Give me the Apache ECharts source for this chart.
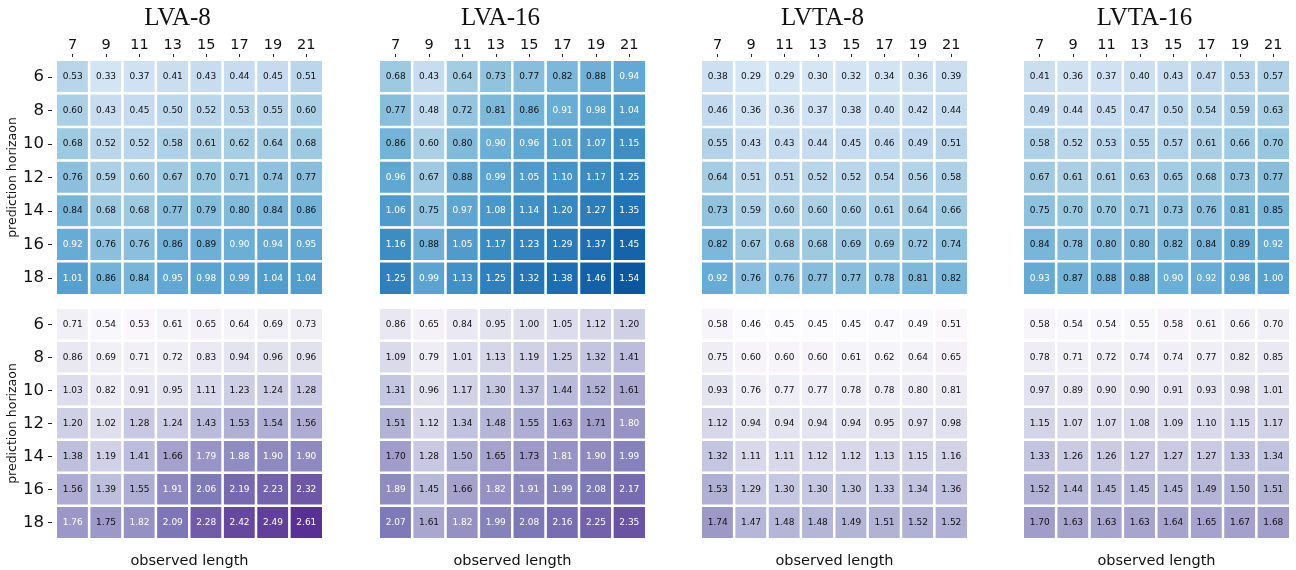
<!DOCTYPE html>
<html>
<head>
<meta charset="utf-8">
<script src="https://cdn.jsdelivr.net/npm/echarts@6/dist/echarts.min.js"></script>
<style>
  html, body { margin: 0; padding: 0; background: #fff; }
  #chart { width: 1296px; height: 570px; }
</style>
</head>
<body>
<div id="chart"></div>
<script>
// Axis categories
const observedLength = ['7', '9', '11', '13', '15', '17', '19', '21'];
const predictionHorizon = ['6', '8', '10', '12', '14', '16', '18'];
const modelNames = ['LVA-8', 'LVA-16', 'LVTA-8', 'LVTA-16'];

// Upper row of heatmaps (rows = prediction horizon, cols = observed length)
const upperLVA8 = [
  [0.53, 0.33, 0.37, 0.41, 0.43, 0.44, 0.45, 0.51],
  [0.60, 0.43, 0.45, 0.50, 0.52, 0.53, 0.55, 0.60],
  [0.68, 0.52, 0.52, 0.58, 0.61, 0.62, 0.64, 0.68],
  [0.76, 0.59, 0.60, 0.67, 0.70, 0.71, 0.74, 0.77],
  [0.84, 0.68, 0.68, 0.77, 0.79, 0.80, 0.84, 0.86],
  [0.92, 0.76, 0.76, 0.86, 0.89, 0.90, 0.94, 0.95],
  [1.01, 0.86, 0.84, 0.95, 0.98, 0.99, 1.04, 1.04]
];
const upperLVA16 = [
  [0.68, 0.43, 0.64, 0.73, 0.77, 0.82, 0.88, 0.94],
  [0.77, 0.48, 0.72, 0.81, 0.86, 0.91, 0.98, 1.04],
  [0.86, 0.60, 0.80, 0.90, 0.96, 1.01, 1.07, 1.15],
  [0.96, 0.67, 0.88, 0.99, 1.05, 1.10, 1.17, 1.25],
  [1.06, 0.75, 0.97, 1.08, 1.14, 1.20, 1.27, 1.35],
  [1.16, 0.88, 1.05, 1.17, 1.23, 1.29, 1.37, 1.45],
  [1.25, 0.99, 1.13, 1.25, 1.32, 1.38, 1.46, 1.54]
];
const upperLVTA8 = [
  [0.38, 0.29, 0.29, 0.30, 0.32, 0.34, 0.36, 0.39],
  [0.46, 0.36, 0.36, 0.37, 0.38, 0.40, 0.42, 0.44],
  [0.55, 0.43, 0.43, 0.44, 0.45, 0.46, 0.49, 0.51],
  [0.64, 0.51, 0.51, 0.52, 0.52, 0.54, 0.56, 0.58],
  [0.73, 0.59, 0.60, 0.60, 0.60, 0.61, 0.64, 0.66],
  [0.82, 0.67, 0.68, 0.68, 0.69, 0.69, 0.72, 0.74],
  [0.92, 0.76, 0.76, 0.77, 0.77, 0.78, 0.81, 0.82]
];
const upperLVTA16 = [
  [0.41, 0.36, 0.37, 0.40, 0.43, 0.47, 0.53, 0.57],
  [0.49, 0.44, 0.45, 0.47, 0.50, 0.54, 0.59, 0.63],
  [0.58, 0.52, 0.53, 0.55, 0.57, 0.61, 0.66, 0.70],
  [0.67, 0.61, 0.61, 0.63, 0.65, 0.68, 0.73, 0.77],
  [0.75, 0.70, 0.70, 0.71, 0.73, 0.76, 0.81, 0.85],
  [0.84, 0.78, 0.80, 0.80, 0.82, 0.84, 0.89, 0.92],
  [0.93, 0.87, 0.88, 0.88, 0.90, 0.92, 0.98, 1.00]
];

// Lower row of heatmaps
const lowerLVA8 = [
  [0.71, 0.54, 0.53, 0.61, 0.65, 0.64, 0.69, 0.73],
  [0.86, 0.69, 0.71, 0.72, 0.83, 0.94, 0.96, 0.96],
  [1.03, 0.82, 0.91, 0.95, 1.11, 1.23, 1.24, 1.28],
  [1.20, 1.02, 1.28, 1.24, 1.43, 1.53, 1.54, 1.56],
  [1.38, 1.19, 1.41, 1.66, 1.79, 1.88, 1.90, 1.90],
  [1.56, 1.39, 1.55, 1.91, 2.06, 2.19, 2.23, 2.32],
  [1.76, 1.75, 1.82, 2.09, 2.28, 2.42, 2.49, 2.61]
];
const lowerLVA16 = [
  [0.86, 0.65, 0.84, 0.95, 1.00, 1.05, 1.12, 1.20],
  [1.09, 0.79, 1.01, 1.13, 1.19, 1.25, 1.32, 1.41],
  [1.31, 0.96, 1.17, 1.30, 1.37, 1.44, 1.52, 1.61],
  [1.51, 1.12, 1.34, 1.48, 1.55, 1.63, 1.71, 1.80],
  [1.70, 1.28, 1.50, 1.65, 1.73, 1.81, 1.90, 1.99],
  [1.89, 1.45, 1.66, 1.82, 1.91, 1.99, 2.08, 2.17],
  [2.07, 1.61, 1.82, 1.99, 2.08, 2.16, 2.25, 2.35]
];
const lowerLVTA8 = [
  [0.58, 0.46, 0.45, 0.45, 0.45, 0.47, 0.49, 0.51],
  [0.75, 0.60, 0.60, 0.60, 0.61, 0.62, 0.64, 0.65],
  [0.93, 0.76, 0.77, 0.77, 0.78, 0.78, 0.80, 0.81],
  [1.12, 0.94, 0.94, 0.94, 0.94, 0.95, 0.97, 0.98],
  [1.32, 1.11, 1.11, 1.12, 1.12, 1.13, 1.15, 1.16],
  [1.53, 1.29, 1.30, 1.30, 1.30, 1.33, 1.34, 1.36],
  [1.74, 1.47, 1.48, 1.48, 1.49, 1.51, 1.52, 1.52]
];
const lowerLVTA16 = [
  [0.58, 0.54, 0.54, 0.55, 0.58, 0.61, 0.66, 0.70],
  [0.78, 0.71, 0.72, 0.74, 0.74, 0.77, 0.82, 0.85],
  [0.97, 0.89, 0.90, 0.90, 0.91, 0.93, 0.98, 1.01],
  [1.15, 1.07, 1.07, 1.08, 1.09, 1.10, 1.15, 1.17],
  [1.33, 1.26, 1.26, 1.27, 1.27, 1.27, 1.33, 1.34],
  [1.52, 1.44, 1.45, 1.45, 1.45, 1.49, 1.50, 1.51],
  [1.70, 1.63, 1.63, 1.63, 1.64, 1.65, 1.67, 1.68]
];

const upperRow = [upperLVA8, upperLVA16, upperLVTA8, upperLVTA16];
const lowerRow = [lowerLVA8, lowerLVA16, lowerLVTA8, lowerLVTA16];

// Colour ramps (sequential blues / purples)
const blues = ['#f7fbff', '#deebf7', '#c6dbef', '#9ecae1', '#6baed6', '#4292c6', '#2171b5', '#08519c', '#08306b'];
const purples = ['#fcfbfd', '#efedf5', '#dadaeb', '#bcbddc', '#9e9ac8', '#807dba', '#6a51a3', '#54278f', '#3f007d'];
const upperScale = { min: 0.0, max: 1.8, lightText: 0.90 };
const lowerScale = { min: 0.45, max: 3.0, lightText: 1.755 };

// Layout
const gridLefts = [56, 379, 701, 1023];
const gridWidth = 267;
const rowTops = [60, 308];
const rowHeights = [235, 234];

const FONT = 'DejaVu Sans';

const grids = [], xAxes = [], yAxes = [], series = [], titles = [];

function cellData(matrix, scale) {
  const out = [];
  matrix.forEach((row, r) => {
    row.forEach((v, c) => {
      out.push({
        value: [c, r, v],
        label: { color: v >= scale.lightText ? '#ffffff' : '#111111' }
      });
    });
  });
  return out;
}

[upperRow, lowerRow].forEach((rowData, ri) => {
  const scale = ri === 0 ? upperScale : lowerScale;
  rowData.forEach((matrix, ci) => {
    const idx = grids.length;
    grids.push({
      left: gridLefts[ci], top: rowTops[ri],
      width: gridWidth, height: rowHeights[ri],
      containLabel: false
    });
    xAxes.push({
      type: 'category',
      gridIndex: idx,
      data: observedLength,
      position: ri === 0 ? 'top' : 'bottom',
      offset: ri === 0 ? 3 : 0,
      axisLine: { show: false },
      axisTick: { show: ri === 0, length: 3, alignWithLabel: true, lineStyle: { color: '#222', width: 1 } },
      axisLabel: { show: ri === 0, fontFamily: FONT, fontSize: 14.5, color: '#111', margin: 4 },
      splitLine: { show: false },
      splitArea: { show: false },
      name: ri === 1 ? 'observed length' : '',
      nameLocation: 'middle',
      nameGap: 15,
      nameTextStyle: { fontFamily: FONT, fontSize: 14.5, color: '#111' }
    });
    yAxes.push({
      type: 'category',
      gridIndex: idx,
      data: predictionHorizon,
      inverse: true,
      offset: 4,
      axisLine: { show: false },
      axisTick: { show: ci === 0, length: 4, alignWithLabel: true, lineStyle: { color: '#222', width: 1 } },
      axisLabel: { show: ci === 0, fontFamily: FONT, fontSize: 16.5, color: '#111', margin: 8 },
      splitLine: { show: false },
      splitArea: { show: false },
      name: ci === 0 ? 'prediction horizaon' : '',
      nameLocation: 'middle',
      nameRotate: 90,
      nameGap: 28,
      nameTextStyle: { fontFamily: FONT, fontSize: 12.5, color: '#111' }
    });
    series.push({
      type: 'heatmap',
      xAxisIndex: idx,
      yAxisIndex: idx,
      data: cellData(matrix, scale),
      itemStyle: { borderColor: '#ffffff', borderWidth: 2.5 },
      label: {
        show: true,
        fontFamily: FONT,
        fontSize: 9,
        formatter: p => p.value[2].toFixed(2)
      },
      emphasis: { disabled: true }
    });
    if (ri === 0) {
      titles.push({
        text: modelNames[ci],
        left: gridLefts[ci] + gridWidth / 2 - 17,
        top: 1,
        textAlign: 'center',
        textStyle: { fontFamily: 'Liberation Serif', fontSize: 25, fontWeight: 'normal', color: '#111' }
      });
    }
  });
});

const chart = echarts.init(document.getElementById('chart'), null, { renderer: 'canvas' });
chart.setOption({
  backgroundColor: '#ffffff',
  animation: false,
  title: titles,
  grid: grids,
  xAxis: xAxes,
  yAxis: yAxes,
  visualMap: [
    {
      type: 'continuous', show: false, dimension: 2,
      seriesIndex: [0, 1, 2, 3],
      min: upperScale.min, max: upperScale.max,
      inRange: { color: blues }
    },
    {
      type: 'continuous', show: false, dimension: 2,
      seriesIndex: [4, 5, 6, 7],
      min: lowerScale.min, max: lowerScale.max,
      inRange: { color: purples }
    }
  ],
  series: series
});
</script>
</body>
</html>
